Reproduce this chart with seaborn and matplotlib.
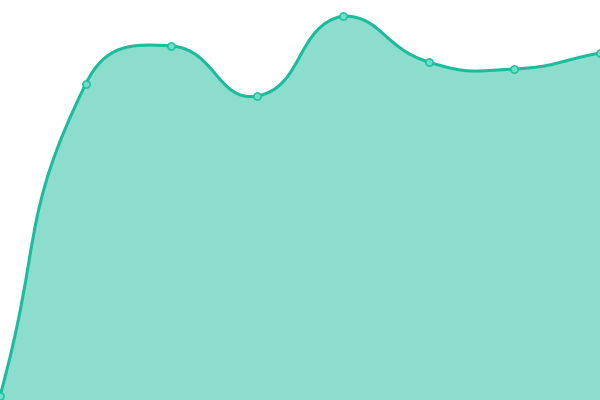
import numpy as np
import pandas as pd
import seaborn as sns
import matplotlib.pyplot as plt
from matplotlib.path import Path
from matplotlib.patches import PathPatch

# values (bottom of the chart = 0, top = 400)
days = [0, 1, 2, 3, 4, 5, 6, 7]
values = [4, 316, 354, 304, 384, 338, 331, 347]

line_col = "#1abc9c"
fill_col = "#1abc9c"

sns.set_style("white")
fig = plt.figure(figsize=(6, 4), dpi=100)
ax = fig.add_axes([0, 0, 1, 1])
ax.set_xlim(0, 7)
ax.set_ylim(0, 400)
ax.axis("off")

df = pd.DataFrame({"day": days, "value": values})

# echarts-like smoothing (smooth=0.5), control points kept inside the data box
sx = 600 / 7.0
pts = np.column_stack([np.array(days, float) * sx, np.array(values, float)])
n = len(pts)
smooth = 0.5
lo = pts.min(axis=0)
hi = pts.max(axis=0)

cin = [None] * n
cout = [None] * n
for i in range(n):
    p = pts[i]
    prev = pts[max(i - 1, 0)]
    nxt = pts[min(i + 1, n - 1)]
    v = nxt - prev
    d0 = np.linalg.norm(p - prev)
    d1 = np.linalg.norm(nxt - p)
    r_next = d1 / (d0 + d1)
    cin[i] = np.clip(p - v * smooth * (1 - r_next), lo, hi)
    cout[i] = np.clip(p + v * smooth * r_next, lo, hi)

verts = [pts[0]]
codes = [Path.MOVETO]
for i in range(n - 1):
    verts += [cout[i], cin[i + 1], pts[i + 1]]
    codes += [Path.CURVE4] * 3
verts = np.array(verts, float)
verts[:, 0] /= sx

line_path = Path(verts, codes)
fill_verts = np.vstack([verts, [[7, 0], [0, 0], verts[0]]])
fill_codes = codes + [Path.LINETO, Path.LINETO, Path.CLOSEPOLY]
fill_path = Path(fill_verts, fill_codes)

ax.add_patch(PathPatch(fill_path, facecolor=fill_col, alpha=0.5, edgecolor="none"))
ax.add_patch(PathPatch(line_path, facecolor="none", edgecolor=line_col, lw=2.2,
                       capstyle="round", joinstyle="round"))

sns.scatterplot(data=df, x="day", y="value", ax=ax, s=28, color="#6fdcc6",
                edgecolor=line_col, linewidth=1, zorder=5, clip_on=False)
ax.set_xlim(0, 7)
ax.set_ylim(0, 400)
ax.axis("off")

fig.savefig("out.png", dpi=100)
